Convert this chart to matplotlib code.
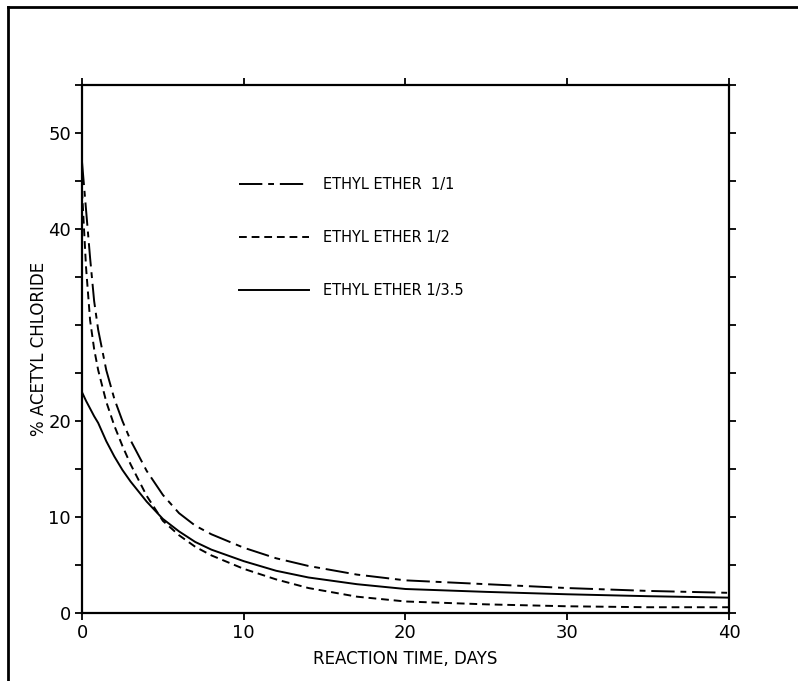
import matplotlib
matplotlib.use("Agg")
import matplotlib.pyplot as plt
from matplotlib.lines import Line2D

# valores
days = [0, 0.25, 0.5, 0.75, 1, 1.5, 2, 2.5, 3, 4, 5, 6, 7, 8, 10, 12, 14, 17, 20, 25, 30, 35, 40]
ether_1_1 = [47, 42, 37, 32.5, 29.5, 25.3, 22.3, 20, 18, 14.8, 12.3, 10.4, 9.1, 8.2, 6.8, 5.7, 4.9,
             4.0, 3.4, 3.0, 2.6, 2.3, 2.1]
ether_1_2 = [44, 36, 30.5, 27.5, 25.3, 22, 19.5, 17.4, 15.5, 12.2, 9.6, 8.1, 6.9, 6.0, 4.6, 3.5, 2.6,
             1.7, 1.2, 0.9, 0.7, 0.6, 0.6]
ether_1_35 = [23, 22.1, 21.3, 20.5, 19.8, 17.9, 16.3, 14.9, 13.7, 11.6, 9.8, 8.5, 7.4, 6.6, 5.4, 4.4, 3.7,
              3.0, 2.5, 2.2, 1.95, 1.75, 1.6]

labels = ["ETHYL ETHER  1/1", "ETHYL ETHER 1/2", "ETHYL ETHER 1/3.5"]
x_ticks = [0, 10, 20, 30, 40]
y_ticks = [0, 10, 20, 30, 40, 50]
y_tick_labels = ["0", "10", "20", "", "40", "50"]

plt.rcParams['font.family'] = ['DejaVu Sans']

fig = plt.figure(figsize=(7.98, 6.81), dpi=100)
ax = fig.add_axes([82/798, 68/681, 647/798, 528/681])

lw = 1.4
ax.plot(days, ether_1_1, color='black', lw=lw, linestyle=(0, (12, 3, 3, 3)), label=labels[0])
ax.plot(days, ether_1_2, color='black', lw=lw, linestyle=(0, (4, 2.5)), label=labels[1])
ax.plot(days, ether_1_35, color='black', lw=lw, linestyle='-', label=labels[2])

ax.set_xlim(0, 40)
ax.set_ylim(0, 55)

for s in ax.spines.values():
    s.set_linewidth(1.6)

ax.set_xticks(x_ticks)
ax.set_xticklabels([str(v) for v in x_ticks], fontsize=13)
ax.set_yticks(y_ticks)
ax.set_yticklabels(y_tick_labels, fontsize=13)
ax.set_yticks(range(0, 56, 5), minor=True)
ax.tick_params(axis='both', which='both', direction='out', length=5, width=1.3,
               top=True, right=True, pad=3)
ax.tick_params(axis='x', which='minor', top=False, bottom=False)

ax.set_xlabel('REACTION TIME, DAYS', fontsize=12, labelpad=6)
ax.set_ylabel('% ACETYL CHLORIDE', fontsize=12)
ax.yaxis.set_label_coords(-34/647, 0.5)

ax.legend(loc='upper left', bbox_to_anchor=(0.232, 0.84), frameon=False,
          handlelength=4.8, handletextpad=0.9, labelspacing=2.6,
          borderpad=0, fontsize=10.5)

# marco exterior (solo arriba e izquierda)
fig.add_artist(Line2D([8/798, 8/798], [0, 1 - 7/681], color='black', lw=2))
fig.add_artist(Line2D([8/798, 1], [1 - 7/681, 1 - 7/681], color='black', lw=2))

plt.savefig('out.png', dpi=100)
